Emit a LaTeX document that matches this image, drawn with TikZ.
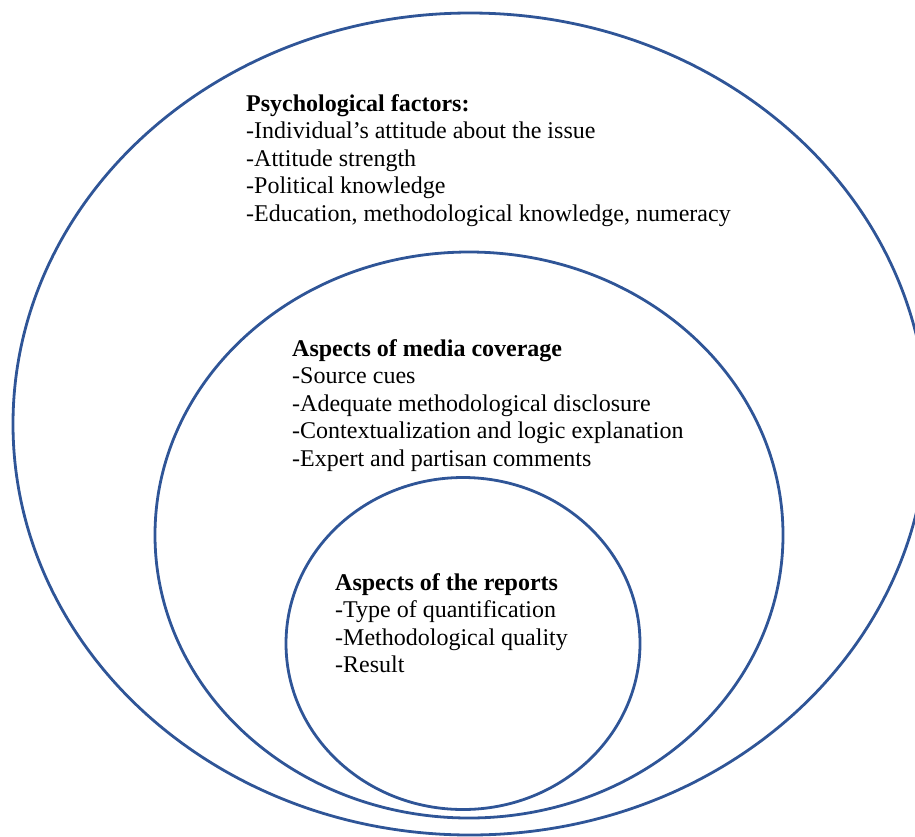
\documentclass[tikz,border=0pt]{standalone}
\usepackage{fontspec}
\setmainfont{Liberation Serif}
\definecolor{ringblue}{HTML}{2F5597}
\tikzset{
  ring/.style={draw=ringblue, line width=2.8pt},
  block/.style={anchor=north west, inner sep=0pt, align=left,
    font=\fontsize{24pt}{27.6pt}\selectfont}
}
\begin{document}
\begin{tikzpicture}[x=1pt,y=-1pt]
\useasboundingbox (0,0) rectangle (915,836);
\clip (0,0) rectangle (915,836);
\draw[ring] (470,424) ellipse [x radius=457pt, y radius=411pt];
\draw[ring] (469,535) ellipse [x radius=314pt, y radius=283pt];
\draw[ring] (463,643.5) ellipse [x radius=177pt, y radius=166pt];
\node[block] (psych) at (246,94) {\textbf{Psychological factors:}\\
-Individual’s attitude about the issue\\
-Attitude strength\\
-Political knowledge\\
-Education, methodological knowledge, numeracy};
\node[block] (media) at (292,339) {\textbf{Aspects of media coverage}\\
-Source cues\\
-Adequate methodological disclosure\\
-Contextualization and logic explanation\\
-Expert and partisan comments};
\node[block] (reports) at (335,573) {\textbf{Aspects of the reports}\\
-Type of quantification\\
-Methodological quality\\
-Result};
\end{tikzpicture}
\end{document}
